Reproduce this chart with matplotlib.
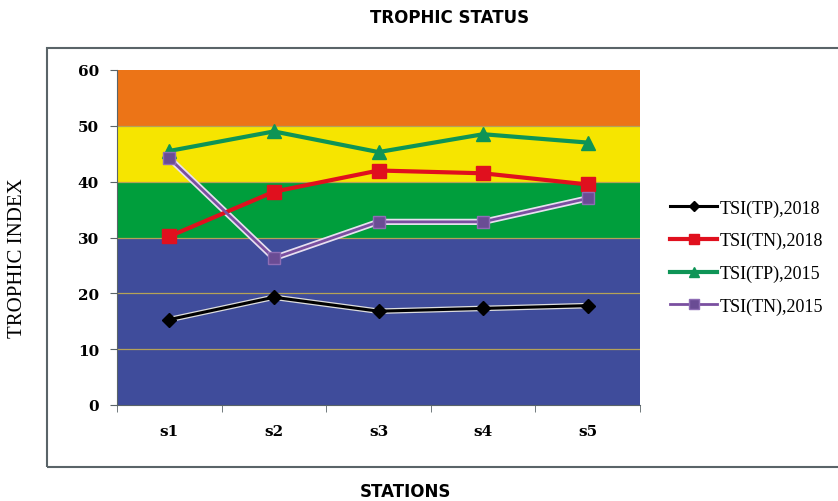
import matplotlib
matplotlib.use("Agg")
import matplotlib.pyplot as plt
from matplotlib.patches import Rectangle
import numpy as np

stations = ["s1", "s2", "s3", "s4", "s5"]
tsi_tp_2018 = [15.3, 19.3, 16.8, 17.3, 17.8]
tsi_tn_2018 = [30.2, 38.2, 42.0, 41.5, 39.5]
tsi_tp_2015 = [45.5, 49.0, 45.3, 48.5, 47.0]
tsi_tn_2015 = [44.2, 26.3, 32.8, 32.8, 37.0]

band_edges = [0, 30, 40, 50, 60]
band_colors = ["#3F4C9B", "#009E3C", "#F6E500", "#EC7417"]
grid_values = [10, 20, 30, 40, 50]
yticks = [0, 10, 20, 30, 40, 50, 60]

fig = plt.figure(figsize=(8.38, 5.02), dpi=100)
fig.patches.append(Rectangle((47/838, 1-468/502), 1.2, (468-49)/502,
                             transform=fig.transFigure, fill=False,
                             edgecolor="#5a6468", linewidth=1.5))

ax = fig.add_axes([117/838, 1-406/502, (640-117)/838, (406-71)/502])
x = np.arange(len(stations))
for lo, hi, c in zip(band_edges[:-1], band_edges[1:], band_colors):
    ax.axhspan(lo, hi, color=c, zorder=0, linewidth=0)
for g in grid_values:
    ax.axhline(g, color="#B5A257", linewidth=0.9, zorder=1)

# light underlays (no markers)
ax.plot(x, tsi_tp_2018, color="#DDDDDD", linewidth=4, zorder=3)
ax.plot(x, tsi_tn_2015, color="#E8E0F0", linewidth=4.5, zorder=3)

ax.plot(x, tsi_tp_2018, color="black", marker="D", markersize=7, linewidth=2.2,
        label="TSI(TP),2018", zorder=5)
ax.plot(x, tsi_tn_2018, color="#E0101E", marker="s", markersize=10, linewidth=3,
        label="TSI(TN),2018", zorder=4)
ax.plot(x, tsi_tp_2015, color="#0E9456", marker="^", markersize=10, linewidth=3,
        label="TSI(TP),2015", zorder=4)
ax.plot(x, tsi_tn_2015, color="#7A4FA0", marker="s", markersize=9, linewidth=2,
        markerfacecolor="#6A4C94", markeredgecolor="#8E6DB5",
        label="TSI(TN),2015", zorder=4)

ax.set_xlim(-0.5, 4.5)
ax.set_ylim(0, 60)
ax.set_yticks(yticks)
ax.set_xticks(x)
ax.set_xticklabels(stations)
ax.set_xticks(np.arange(-0.5, 5, 1), minor=True)
ax.tick_params(axis="x", which="major", length=0, pad=14)
ax.tick_params(axis="x", which="minor", length=5, color="#5a6468")
ax.tick_params(axis="y", length=5, color="#5a6468", pad=8)
for lab in ax.get_xticklabels() + ax.get_yticklabels():
    lab.set_fontfamily("DejaVu Serif")
    lab.set_fontweight("bold")
    lab.set_fontsize(11)
for s in ["top", "right"]:
    ax.spines[s].set_visible(False)
ax.spines["left"].set_color("#5a6468")
ax.spines["bottom"].set_color("#5a6468")

fig.text(450/838, 1-18/502, "TROPHIC STATUS", ha="center", va="center",
         fontsize=12, fontweight="black", family="DejaVu Sans")
fig.text(405/838, 1-492/502, "STATIONS", ha="center", va="center",
         fontsize=12, fontweight="black", family="DejaVu Sans")
fig.text(18/838, 1-258/502, "TROPHIC INDEX", ha="center", va="center",
         rotation=90, fontsize=15, family="Liberation Serif")

leg = fig.legend(loc="center left", bbox_to_anchor=(654/838, 1-258/502),
                 frameon=False, prop={"family": "Liberation Serif", "size": 13},
                 handlelength=2.6, handletextpad=0.15, labelspacing=0.85,
                 markerscale=0.75)
fig.savefig("out.png", dpi=100)
